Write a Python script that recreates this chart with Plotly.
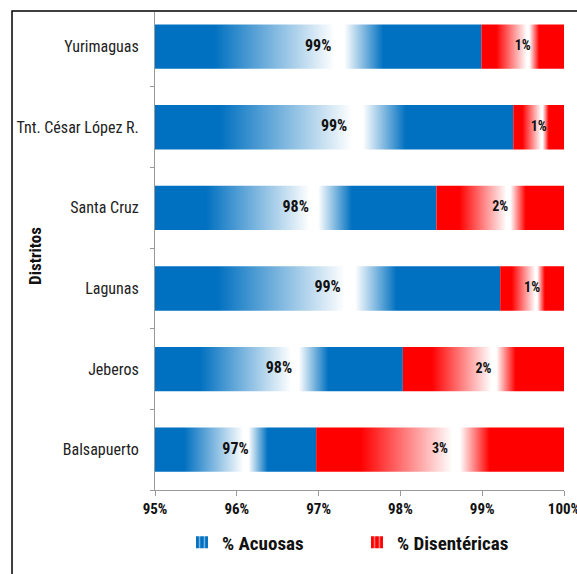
import plotly.graph_objects as go

# ---- data ----
distritos = ["Balsapuerto", "Jeberos", "Lagunas", "Santa Cruz", "Tnt. César López R.", "Yurimaguas"]
acuosas = [96.97, 98.03, 99.22, 98.44, 99.38, 98.99]          # % Acuosas
disentericas = [3.03, 1.97, 0.78, 1.56, 0.62, 1.01]          # % Disentéricas
x_ticks = [95, 96, 97, 98, 99, 100]
x_tick_labels = ["95%", "96%", "97%", "98%", "99%", "100%"]
series_names = ["% Acuosas", "% Disentéricas"]
series_colors = ["#0070C0", "#FF0000"]

X_MIN = 95
HALF = 0.275  # half bar thickness in category units
FONT = "Liberation Sans Narrow, Roboto Condensed, Liberation Sans, Arial"


def grad(c):
    return [[0, c], [0.18, c], [0.55, "white"], [0.58, "white"], [0.70, c], [1, c]]


fig = go.Figure()
for s, (name, color) in enumerate(zip(series_names, series_colors)):
    for i, d in enumerate(distritos):
        if s == 0:
            x0, x1 = X_MIN, acuosas[i]
        else:
            x0, x1 = acuosas[i], acuosas[i] + disentericas[i]
        fig.add_trace(go.Scatter(
            x=[x0, x1, x1, x0, x0],
            y=[i - HALF, i - HALF, i + HALF, i + HALF, i - HALF],
            mode="lines", line=dict(width=0), fill="toself",
            fillgradient=dict(type="horizontal", colorscale=grad(color)),
            name=name, legendgroup=name, showlegend=False,
            hoverinfo="skip",
        ))
    # legend entry
    fig.add_trace(go.Bar(
        x=[None], y=[None], orientation="h", name=name, legendgroup=name,
        marker=dict(color=color, line=dict(width=0),
                    pattern=dict(shape="|", fgcolor="white", bgcolor=color, size=6, solidity=0.3)),
    ))
    # labels
    if s == 0:
        xs = [(X_MIN + a) / 2 for a in acuosas]
        vals = acuosas
    else:
        xs = [a + d / 2 for a, d in zip(acuosas, disentericas)]
        vals = disentericas
    fig.add_trace(go.Scatter(
        x=xs, y=list(range(len(distritos))), mode="text",
        text=[f"{round(v):d}%" for v in vals],
        textfont=dict(family=FONT, size=16 if s == 0 else 14, color="#111", weight="bold"),
        showlegend=False, hoverinfo="skip",
    ))

fig.update_layout(
    width=577, height=574,
    margin=dict(l=155, r=13, t=12, b=84),
    plot_bgcolor="white", paper_bgcolor="white",
    font=dict(family=FONT, color="#222"),
    xaxis=dict(
        range=[95, 100], tickvals=x_ticks, ticktext=x_tick_labels, automargin=False,
        ticklabeloverflow="allow",
        showgrid=False, zeroline=False, showline=True, linecolor="#9a9a9a", linewidth=1,
        ticks="outside", ticklen=5, tickcolor="#9a9a9a",
        tickfont=dict(family=FONT, size=15, color="#111", weight="bold"),
    ),
    yaxis=dict(
        range=[-0.5, 5.43], tickvals=list(range(len(distritos))), ticktext=distritos,
        automargin=False,
        showgrid=False, zeroline=False, showline=True, linecolor="#9a9a9a", linewidth=1,
        ticks="", ticklabelstandoff=12,
        minor=dict(tickvals=[k - 0.5 for k in range(len(distritos))], ticks="outside",
                   ticklen=4, tickcolor="#9a9a9a"),
        tickfont=dict(family=FONT, size=16, color="#222"),
    ),
    annotations=[dict(text="<b>Distritos</b>", xref="paper", yref="paper",
                      x=-0.293, y=0.49, xanchor="center", yanchor="middle",
                      textangle=-90, showarrow=False,
                      font=dict(family=FONT, size=17, color="#111"))],
    legend=dict(
        orientation="h", x=0.066, xanchor="left", y=-0.07, yanchor="top",
        font=dict(family=FONT, size=19, color="#111", weight="bold"),
        itemwidth=30, entrywidth=130, entrywidthmode="pixels", traceorder="normal",
    ),
    shapes=[dict(type="rect", xref="paper", yref="paper",
                 x0=-0.3496, x1=1.2, y0=-0.4, y1=1.0021,
                 line=dict(color="black", width=1.5), layer="above")],
)

fig.write_html("out.html", config={"displayModeBar": False},
               post_script="document.body.style.margin='0px';document.body.style.overflow='hidden';")
